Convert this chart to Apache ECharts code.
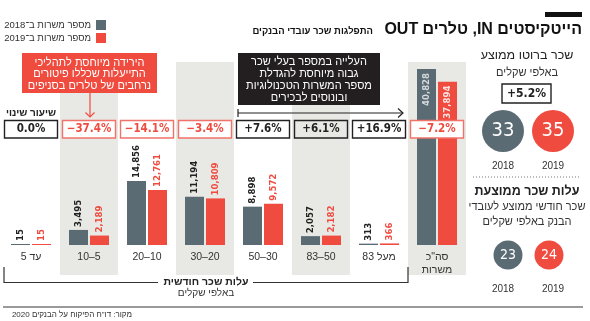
<!DOCTYPE html>
<html><head><meta charset="utf-8">
<script src="https://cdn.jsdelivr.net/npm/echarts@6/dist/echarts.min.js"></script>
<style>html,body{margin:0;padding:0;background:#fff}#c{width:590px;height:321px}</style>
</head><body><div id="c"></div>
<script>
// ---- data ----
const categories = ['עד 5', '10–5', '20–10', '30–20', '50–30', '83–50', 'מעל 83', 'סה"כ\nמשרות'];
const jobs2018 = [15, 3495, 14856, 11194, 8898, 2057, 313, 40828];
const jobs2019 = [15, 2189, 12761, 10809, 9572, 2182, 366, 37894];
const pctChange = [0.0, -37.4, -14.1, -3.4, 7.6, 6.1, 16.9, -7.2];
const years = ['2018', '2019'];
const grossSalary = [33, 35];
const grossChange = 5.2;
const costSalary = [23, 24];

// ---- styles ----
const GRAY = '#5b6b74', RED = '#ef4b3f', BAND = '#e8e8e4';
const HE = "'Liberation Sans','DejaVu Sans',sans-serif";
const NUM = "'DejaVu Sans Condensed','Liberation Sans Narrow',sans-serif";
const rtl = s => s.split('\n').map(l => '\u202B' + l + '\u202C').join('\n');
const fmtPct = v => (v > 0 ? '+' : v < 0 ? '−' : '') + Math.abs(v).toFixed(1) + '%';
const fmtNum = v => v.toLocaleString('en-US');
const name18 = rtl('מספר משרות ב־2018'), name19 = rtl('מספר משרות ב־2019');
const catLabels = categories.map(c => /[\u0590-\u05FF]/.test(c) ? rtl(c) : c);

function txt(x, y, text, font, fill, align, lh) {
  const st = { x, y, text, font, fill: fill || '#222',
    align: align || 'center', textAlign: align || 'center', verticalAlign: 'middle', textVerticalAlign: 'middle' };
  if (lh) st.lineHeight = lh;
  return { type: 'text', silent: true, z: 10, style: st };
}
function line(points, stroke, lw, dash) {
  return { type: 'polyline', silent: true, z: 10, shape: { points }, style: { stroke, lineWidth: lw || 1.2, fill: null, lineDash: dash || null } };
}
function rect(x, y, w, h, fill, stroke, lw) {
  return { type: 'rect', silent: true, z: 9, shape: { x, y, width: w, height: h }, style: { fill, stroke: stroke || null, lineWidth: lw || 0 } };
}

const chart = echarts.init(document.getElementById('c'), null, { renderer: 'canvas' });
const barLabel = { show: true, position: 'top', rotate: 90, align: 'left', verticalAlign: 'middle', distance: 3,
  formatter: p => fmtNum(p.value), fontFamily: NUM, fontWeight: 'bold', fontSize: 9.5 };

chart.setOption({
  animation: false,
  legend: { data: [name18, name19], orient: 'vertical', right: 484, top: 20, padding: 0, align: 'right', itemWidth: 10, itemHeight: 10, itemGap: 3,
    icon: 'rect', textStyle: { fontFamily: HE, fontSize: 9.5, color: '#333' } },
  grid: [
    { left: 2, right: 124, top: 45, bottom: 76 },
    { left: 2, right: 124, top: 62, bottom: 46, z: 0 },
    { left: 478, width: 100, top: 116, height: 30 },
    { left: 478, width: 100, top: 240, height: 30 }
  ],
  xAxis: [
    { type: 'category', gridIndex: 0, data: catLabels, axisLine: { show: false }, axisTick: { show: false },
      axisLabel: { interval: 0, margin: 6, fontFamily: HE, fontSize: 10.5, color: '#333', lineHeight: 13 } },
    { type: 'category', gridIndex: 1, data: catLabels, axisLine: { show: false }, axisTick: { show: false }, axisLabel: { show: false },
      splitArea: { show: true, interval: 0, areaStyle: { color: ['rgba(0,0,0,0)', BAND] } } },
    { type: 'category', gridIndex: 2, data: years, axisLine: { show: false }, axisTick: { show: false },
      axisLabel: { margin: 15, fontFamily: HE, fontSize: 10, color: '#333' } },
    { type: 'category', gridIndex: 3, data: years, axisLine: { show: false }, axisTick: { show: false },
      axisLabel: { margin: 14, fontFamily: HE, fontSize: 10, color: '#333' } }
  ],
  yAxis: [
    { type: 'value', gridIndex: 0, min: 0, max: 46400, show: false },
    { type: 'value', gridIndex: 1, min: 0, max: 1, show: false },
    { type: 'category', gridIndex: 2, data: ['a'], show: false },
    { type: 'category', gridIndex: 3, data: ['a'], show: false }
  ],
  series: [
    { type: 'bar', name: name18, xAxisIndex: 0, yAxisIndex: 0, barWidth: 19, barGap: '10.5%', barMinHeight: 1,
      itemStyle: { color: GRAY },
      label: Object.assign({}, barLabel, { color: '#222' }),
      data: jobs2018.map((v, i) => i === categories.length - 1 ?
        { value: v, label: { position: 'insideTop', align: 'right', distance: 4, color: '#d3d9dd' } } : v) },
    { type: 'bar', name: name19, xAxisIndex: 0, yAxisIndex: 0, barWidth: 19, barMinHeight: 1,
      itemStyle: { color: RED },
      label: Object.assign({}, barLabel, { color: RED }),
      data: jobs2019.map((v, i) => i === categories.length - 1 ?
        { value: v, label: { position: 'insideTop', align: 'right', distance: 4, color: '#fde3e0' } } : v) },
    { type: 'custom', xAxisIndex: 0, yAxisIndex: 0, z: 6, silent: true,
      data: pctChange.map((v, i) => [i, v]),
      renderItem: (params, api) => {
        const i = api.value(0), v = api.value(1);
        const x = api.coord([i, 0])[0];
        const neg = v < 0;
        return { type: 'group', children: [
          { type: 'rect', shape: { x: x - 26.5, y: 120.5, width: 53, height: 17.5 },
            style: { fill: i === 5 ? 'rgba(0,0,0,0)' : '#fff', stroke: neg ? '#f07268' : '#222', lineWidth: 1.4 } },
          { type: 'text', style: { x: x, y: 129.5, text: fmtPct(v), fill: neg ? RED : '#222',
            font: 'bold 11.5px ' + NUM, align: 'center', verticalAlign: 'middle' } }
        ] };
      } },
    { type: 'scatter', xAxisIndex: 2, yAxisIndex: 2, symbolSize: 42, silent: true,
      data: grossSalary.map((v, i) => ({ value: [i, 0, v], itemStyle: { color: i ? RED : GRAY, opacity: 1 } })),
      label: { show: true, position: 'inside', formatter: p => p.value[2], color: '#fff', fontFamily: NUM, fontSize: 20 } },
    { type: 'scatter', xAxisIndex: 3, yAxisIndex: 3, symbolSize: 29, silent: true,
      data: costSalary.map((v, i) => ({ value: [i, 0, v], symbolOffset: [i ? -4 : 5, 0], itemStyle: { color: i ? RED : GRAY, opacity: 1 } })),
      label: { show: true, position: 'inside', formatter: p => p.value[2], color: '#fff', fontFamily: NUM, fontSize: 14 } }
  ],
  graphic: [
    rect(545, 12, 37, 5, '#111'),
    txt(582, 30, rtl('הייטקיסטים IN, טלרים OUT'), 'bold 16px ' + HE, '#111', 'right'),
    txt(373, 31, rtl('התפלגות שכר עובדי הבנקים'), 'bold 9.5px ' + HE, '#111', 'right'),
    // red callout
    rect(22, 53, 135, 40, RED),
    txt(89.5, 74, 'הירידה מיוחסת לתהליכי\nהתייעלות שכללו פיטורים\nנרחבים של טלרים בסניפים', '11px ' + HE, '#fff', 'center', 11.5),
    line([[90, 93], [90, 117]], RED, 1.2),
    line([[85.5, 112.5], [90, 117], [94.5, 112.5]], RED, 1.2),
    // black callout
    rect(238, 53, 142, 52, '#231f20'),
    txt(309, 80, 'העלייה במספר בעלי שכר\nגבוה מיוחסת להגדלת\nמספר המשרות הטכנולוגיות\nובונוסים לבכירים', '11px ' + HE, '#fff', 'center', 11.7),
    line([[238, 113], [403, 113]], '#222', 1.2),
    line([[238, 109], [238, 117]], '#222', 1.2),
    line([[398, 108.5], [403, 113], [398, 117.5]], '#222', 1.2),
    txt(31, 113.5, 'שיעור שינוי', 'bold 10px ' + HE, '#222'),
    // bracket
    line([[4, 267], [4, 282.5], [158, 282.5]], '#333', 1.2),
    line([[253, 282.5], [408, 282.5], [408, 267]], '#333', 1.2),
    txt(206, 282, 'עלות שכר חודשית', 'bold 10.5px ' + HE, '#222'),
    txt(206, 293, 'באלפי שקלים', '10px ' + HE, '#333'),
    // right panel
    txt(527, 56, 'שכר ברוטו ממוצע', '12.5px ' + HE, '#222'),
    txt(527, 72.5, 'באלפי שקלים', '11px ' + HE, '#333'),
    rect(502, 84, 49, 19, '#fff', '#222', 1.4),
    txt(526.5, 93.5, fmtPct(grossChange), 'bold 12px ' + NUM, '#222'),
    line([[473, 177], [580, 177]], '#777', 1, [1, 2]),
    txt(527, 192, 'עלות שכר ממוצעת', 'bold 12.5px ' + HE, '#222'),
    txt(527, 207, 'שכר חודשי ממוצע לעובדי', '11px ' + HE, '#333'),
    txt(527, 222, 'הבנק באלפי שקלים', '11px ' + HE, '#333'),
    // footer
    line([[3, 307], [583, 307]], '#9a9a9a', 2),
    txt(132, 314.5, rtl('מקור: דו"ח הפיקוח על הבנקים 2020'), '8px ' + HE, '#333', 'right')
  ]
});
</script></body></html>
